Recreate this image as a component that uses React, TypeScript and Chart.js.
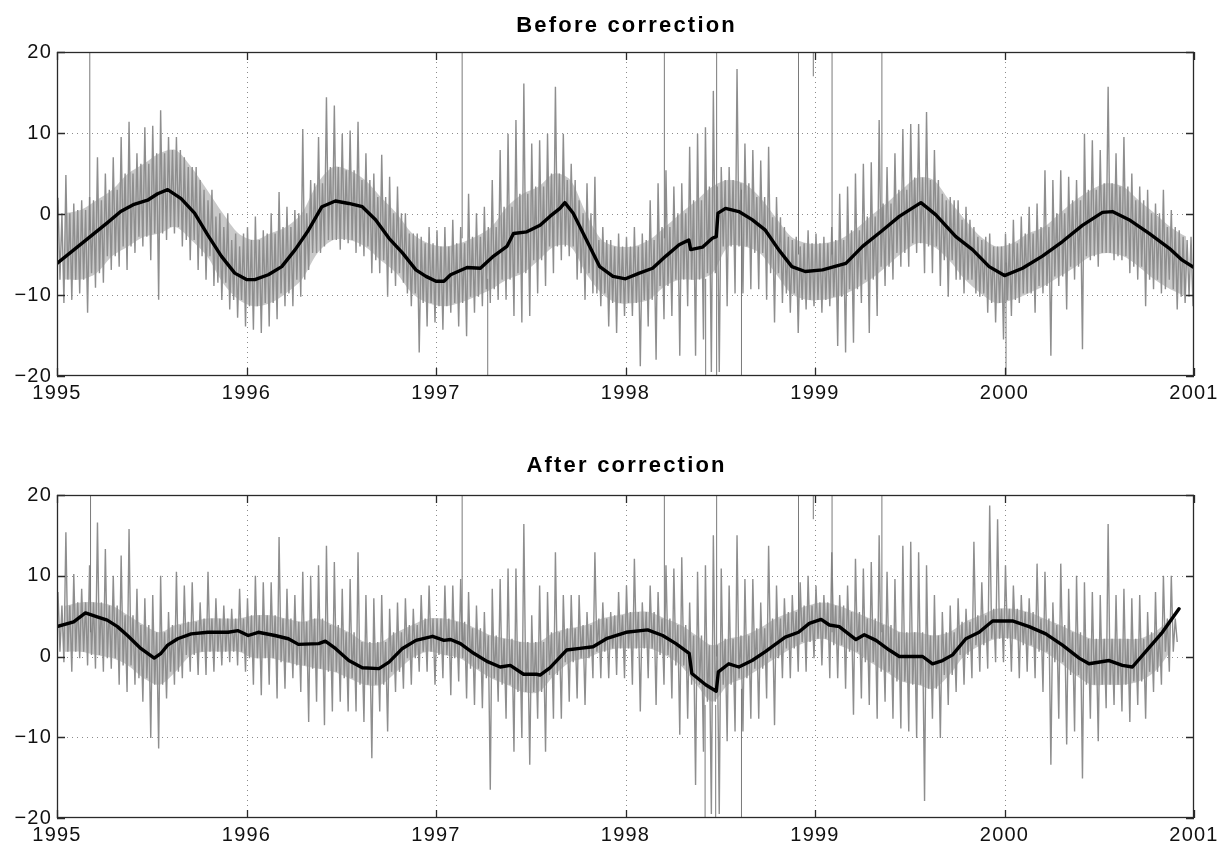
import React, { useEffect, useRef } from 'react';
import { Chart, registerables } from 'chart.js';

Chart.register(...registerables);

// ---------- data ----------
const START_YEAR = 1995;
const END_YEAR = 2001;
const HALF_MONTHS_PER_YEAR = 24;
const MONTHS_PER_YEAR = 12;
const yTickValues = [-20, -10, 0, 10, 20];

// Before correction: upper / lower extent of the daily gray trace, per half-month
const topGrayHi = [
  2.0, 4.8, 1.3, 1.7, 2.1, 7.0, 5.0, 7.0, 9.5, 11.4, 7.5, 10.7, 10.9, 12.8, 9.5, 9.5, 7.0, 5.8, 4.2, 1.7, -0.3, -1.6, -3.2, -4.0,
  -1.6, -0.3, -2.0, 0.1, 2.7, 0.9, 0.5, 10.5, 4.2, 9.5, 14.4, 13.4, 9.9, 10.3, 11.4, 7.5, 5.0, 7.3, 4.6, 3.4, 0.1, -2.4, -2.8, -1.6,
  -2.0, -1.6, -0.7, -1.6, 2.5, 0.1, 0.9, 4.2, 7.9, 9.9, 11.6, 16.1, 8.7, 9.1, 9.9, 15.7, 9.9, 6.2, 1.7, 3.8, 4.6, -1.6, -3.2, -2.4,
  -2.8, -1.6, -2.4, 1.7, 3.8, 5.4, 3.4, 3.8, 8.3, 9.9, 10.7, 15.2, 5.8, 5.8, 17.9, 8.7, 7.9, 6.6, 8.3, 2.1, -1.6, -3.2, -4.0, -2.0,
  -2.4, -2.8, -1.6, 2.5, 3.4, 5.0, 6.2, 6.4, 11.6, 5.8, 7.5, 10.5, 11.1, 11.1, 12.6, 7.9, 2.5, 2.1, 1.7, 0.9, -1.6, -3.2, -2.4, -4.0,
  -2.4, -0.7, -0.3, 0.9, 1.3, 5.4, 4.2, 5.4, 4.6, 4.2, 9.9, 9.1, 7.9, 15.7, 7.5, 9.5, 5.0, 3.4, 3.0, 1.3, 3.0, 0.5, -2.0, -3.2,
];
const topGrayLo = [
  -11.0, -10.6, -9.8, -12.2, -9.1, -8.5, -6.9, -6.5, -6.9, -4.8, -4.0, -5.7, -10.6, -3.2, -2.4, -4.0, -5.7, -6.9, -8.1, -8.9, -10.6, -11.8, -12.8, -13.9,
  -14.3, -14.7, -13.9, -13.0, -11.4, -11.4, -10.2, -6.9, -4.8, -4.0, -3.2, -4.4, -3.6, -4.8, -5.2, -7.3, -7.3, -10.2, -8.9, -8.5, -11.4, -17.1, -13.9, -13.4,
  -14.3, -12.2, -13.9, -15.1, -12.2, -11.4, -11.0, -10.6, -10.6, -12.6, -13.4, -12.6, -9.8, -8.9, -7.3, -5.7, -5.2, -8.1, -10.6, -9.8, -11.4, -13.9, -14.7, -12.6,
  -12.6, -18.8, -13.9, -18.0, -13.0, -12.6, -17.5, -11.4, -17.5, -15.5, -19.5, -19.5, -11.4, -9.8, -9.8, -9.3, -9.3, -10.6, -13.4, -11.0, -12.2, -14.7, -11.8, -11.4,
  -12.2, -11.4, -16.3, -17.1, -15.9, -11.0, -14.7, -12.6, -8.9, -8.1, -6.5, -6.5, -4.8, -7.3, -7.3, -8.9, -10.2, -8.1, -9.8, -8.1, -10.2, -12.2, -13.4, -15.5,
  -12.6, -11.0, -9.8, -12.2, -9.8, -17.5, -8.9, -11.8, -8.1, -16.7, -5.7, -6.5, -4.8, -5.7, -5.7, -7.3, -8.1, -11.4, -9.3, -9.8, -8.1, -11.8, -11.0, -11.4,
];
// dense core of the gray trace, per month
const topCoreHi = [
  0.1, 0.5, 1.7, 3.0, 5.0, 6.2, 7.5, 7.9, 5.8, 3.0, 0.1, -2.4,
  -3.2, -2.4, -1.6, 0.1, 3.8, 5.8, 5.4, 4.2, 2.1, 0.1, -2.4, -3.6,
  -4.0, -3.6, -2.8, -1.6, 0.9, 2.5, 3.4, 5.0, 4.2, 0.1, -3.2, -4.0,
  -4.0, -3.2, -1.6, 0.1, 1.7, 3.4, 4.2, 3.8, 2.1, -0.4, -2.8, -3.6,
  -3.6, -3.2, -2.0, -0.3, 1.3, 3.0, 4.5, 4.2, 1.7, -0.7, -2.8, -4.0,
  -3.6, -2.4, -1.6, 0.1, 1.7, 3.0, 3.8, 3.4, 1.7, 0.1, -1.6, -2.8,
];
const topCoreLo = [
  -8.1, -8.1, -7.3, -5.2, -4.0, -2.8, -2.4, -1.6, -3.2, -5.2, -8.5, -10.6,
  -11.4, -11.0, -9.8, -8.1, -4.8, -3.2, -3.2, -4.0, -5.7, -7.3, -9.8, -11.0,
  -11.4, -11.0, -10.2, -9.3, -8.1, -7.3, -5.7, -4.0, -4.0, -7.3, -9.8, -11.0,
  -11.0, -10.6, -8.9, -8.1, -8.1, -7.3, -4.0, -4.0, -4.8, -7.3, -9.8, -10.6,
  -10.6, -10.2, -9.3, -8.1, -6.5, -4.8, -3.6, -4.0, -5.7, -8.1, -9.8, -11.0,
  -10.6, -9.8, -8.9, -7.7, -6.5, -5.2, -4.8, -5.2, -6.5, -8.1, -9.3, -10.2,
];
// isolated tall outliers (year, low end, high end)
const topSpikeX = [1995.173, 1997.138, 1997.273, 1998.205, 1998.423, 1998.481, 1998.612, 1998.913, 1998.991, 1999.09, 1999.353, 2000.008];
const topSpikeLo = [-2, -3, -21, -3, -21, -21, -21, -5, 17, -5, -2, -21];
const topSpikeHi = [21, 21, -8, 21, -8, 21, 3, 21, 21, 21, 21, -6];
// smoothed (black) curve
const topMeanX = [
  1995.0, 1995.265, 1995.336, 1995.407, 1995.478, 1995.531, 1995.584, 1995.655, 1995.726, 1995.796, 1995.867, 1995.938,
  1996.0, 1996.044, 1996.115, 1996.186, 1996.257, 1996.327, 1996.398, 1996.469, 1996.54, 1996.611, 1996.681, 1996.752, 1996.823, 1996.894, 1996.947,
  1997.0, 1997.042, 1997.077, 1997.164, 1997.234, 1997.304, 1997.374, 1997.409, 1997.479, 1997.549, 1997.601, 1997.654, 1997.68, 1997.724, 1997.794, 1997.864, 1997.934,
  1998.0, 1998.073, 1998.143, 1998.213, 1998.283, 1998.334, 1998.344, 1998.406, 1998.458, 1998.479, 1998.488, 1998.528, 1998.598, 1998.668, 1998.738, 1998.808, 1998.878, 1998.948,
  1999.04, 1999.163, 1999.251, 1999.357, 1999.445, 1999.559, 1999.638, 1999.743, 1999.831, 1999.919,
  2000.0, 2000.095, 2000.2, 2000.306, 2000.411, 2000.517, 2000.569, 2000.657, 2000.763, 2000.868, 2000.938, 2001.0,
];
const topMeanY = [
  -6.1, -1.1, 0.3, 1.2, 1.7, 2.5, 3.0, 1.9, 0.1, -2.6, -5.2, -7.3,
  -8.1, -8.1, -7.5, -6.5, -4.4, -2.0, 0.9, 1.6, 1.3, 0.9, -0.7, -3.0, -4.8, -6.9, -7.7,
  -8.3, -8.3, -7.5, -6.6, -6.7, -5.2, -4.0, -2.4, -2.2, -1.4, -0.3, 0.7, 1.4, 0.1, -3.2, -6.5, -7.7,
  -8.0, -7.3, -6.7, -5.2, -3.8, -3.2, -4.4, -4.1, -3.0, -2.8, 0.1, 0.7, 0.3, -0.7, -2.0, -4.4, -6.5, -7.1,
  -6.9, -6.1, -4.0, -2.0, -0.3, 1.4, -0.1, -2.8, -4.4, -6.5,
  -7.6, -6.7, -5.2, -3.4, -1.4, 0.2, 0.3, -0.7, -2.4, -4.2, -5.7, -6.6,
];

// After correction
const bottomGrayHi = [
  8.0, 15.4, 10.2, 8.4, 11.3, 16.6, 13.3, 10.0, 12.5, 15.8, 8.4, 7.2, 7.6, 10.0, 5.5, 10.5, 8.8, 9.2, 6.7, 10.5, 7.2, 6.3, 5.9, 8.4,
  7.2, 10.0, 9.2, 9.2, 14.8, 8.4, 7.6, 10.5, 10.0, 11.3, 13.7, 11.7, 8.4, 9.6, 12.9, 7.6, 7.2, 7.6, 5.9, 6.7, 7.2, 5.9, 7.6, 8.8,
  4.7, 8.8, 8.8, 9.6, 8.0, 6.3, 5.5, 8.4, 9.6, 10.9, 10.9, 16.4, 5.1, 8.8, 8.0, 12.9, 7.6, 7.6, 7.6, 5.5, 12.9, 6.7, 5.5, 8.0,
  8.8, 12.1, 6.7, 8.8, 8.0, 11.3, 10.9, 12.3, 6.7, 10.5, 11.3, 15.0, 10.9, 8.8, 15.0, 9.6, 9.6, 6.7, 13.7, 8.8, 7.2, 7.6, 9.2, 10.0,
  8.8, 7.6, 12.9, 7.6, 8.8, 12.1, 10.9, 11.7, 15.0, 10.5, 9.6, 13.7, 14.2, 12.9, 11.3, 7.6, 5.5, 6.3, 7.2, 5.9, 14.2, 9.2, 18.7, 17.0,
  11.3, 8.8, 7.6, 7.2, 11.5, 10.5, 6.7, 11.5, 8.4, 10.0, 9.2, 8.0, 7.6, 16.4, 7.6, 8.4, 7.2, 7.6, 5.5, 8.0, 10.0, 10.0,
];
const bottomGrayLo = [
  -0.7, -1.9, -0.2, -1.1, -1.5, -1.9, -1.5, -3.5, -4.4, -3.5, -5.6, -10.1, -11.4, -5.2, -3.5, -2.7, -1.9, -2.3, -2.3, -1.9, -1.1, -0.7, -1.1, -1.9,
  -3.5, -4.8, -3.5, -5.2, -4.0, -2.7, -4.4, -8.1, -5.6, -8.5, -6.8, -5.6, -6.8, -6.8, -8.1, -12.6, -6.8, -9.3, -4.4, -4.0, -3.5, -1.9, -1.9, -3.5,
  -2.7, -4.8, -3.1, -5.2, -6.0, -6.4, -16.5, -5.6, -7.7, -11.8, -10.1, -13.4, -7.7, -11.8, -7.7, -7.7, -5.6, -5.2, -6.0, -2.7, -2.7, -2.7, -2.3, -2.7,
  -3.5, -6.8, -2.7, -6.0, -3.5, -5.2, -9.7, -7.7, -15.9, -11.8, -19.5, -19.5, -10.5, -9.3, -9.3, -7.7, -7.7, -5.2, -8.5, -2.7, -2.7, -1.9, -1.9, -0.2,
  -1.1, -2.7, -2.7, -4.0, -7.2, -5.2, -6.0, -7.7, -5.6, -7.7, -8.9, -9.3, -10.1, -17.9, -7.7, -10.1, -6.0, -4.4, -3.5, -2.7, -1.9, -1.5, -0.7, -0.7,
  -1.9, -2.7, -1.9, -2.7, -4.4, -13.4, -7.7, -10.9, -9.3, -15.1, -7.7, -10.5, -6.4, -6.0, -6.8, -8.1, -6.0, -7.7, -4.4, -3.5, -1.9, 1.8,
];
const bottomCoreHi = [
  6.3, 6.7, 6.7, 6.3, 5.1, 3.9, 3.0, 3.9, 4.3, 4.7, 4.7, 4.7,
  5.1, 5.1, 4.7, 4.3, 4.7, 3.9, 3.0, 1.8, 1.8, 3.0, 3.9, 4.7,
  4.7, 4.3, 3.5, 2.6, 2.2, 1.8, 1.8, 3.0, 3.5, 3.9, 4.7, 5.1,
  5.5, 5.5, 4.7, 3.9, 2.6, 1.4, 2.2, 2.6, 3.5, 4.7, 5.5, 6.3,
  6.7, 6.3, 5.5, 4.7, 3.9, 3.0, 3.0, 2.6, 3.0, 4.3, 5.1, 5.9,
  5.9, 5.5, 4.7, 3.9, 3.0, 2.2, 2.2, 2.2, 2.2, 3.0, 4.7, 6.3,
];
const bottomCoreLo = [
  0.6, 0.6, 0.2, -0.2, -1.1, -2.7, -3.5, -1.9, 0.2, 0.6, 0.6, 0.6,
  -0.2, -0.2, -0.7, -1.1, -1.5, -1.9, -2.7, -3.5, -3.5, -1.9, -0.2, 0.6,
  0.2, -0.2, -1.5, -2.7, -3.5, -4.4, -4.4, -2.3, -0.7, -0.2, 0.6, 1.0,
  1.0, 1.0, 0.2, -1.1, -3.5, -5.6, -3.5, -2.7, -1.5, -0.2, 1.0, 1.8,
  2.2, 1.4, 0.6, -0.7, -1.9, -3.1, -3.5, -4.0, -2.3, 0.2, 1.4, 2.2,
  2.2, 1.4, 0.6, -0.7, -2.3, -3.5, -3.5, -3.5, -3.1, -1.9, 0.6, 2.2,
];
const bottomSpikeX = [1995.177, 1997.138, 1998.205, 1998.42, 1998.476, 1998.481, 1998.612, 1998.913, 1998.991, 1999.09, 1999.353];
const bottomSpikeLo = [3, 2, 3, -21, -21, 0, -21, 3, 17, 3, 3];
const bottomSpikeHi = [21, 21, 21, -6, -6, 21, -4, 21, 21, 21, 21];
const bottomMeanX = [
  1995.0, 1995.088, 1995.15, 1995.212, 1995.265, 1995.319, 1995.372, 1995.442, 1995.513, 1995.549, 1995.584, 1995.637, 1995.708, 1995.796, 1995.903, 1995.956,
  1996.009, 1996.062, 1996.15, 1996.221, 1996.274, 1996.381, 1996.416, 1996.469, 1996.54, 1996.611, 1996.699, 1996.752, 1996.823, 1996.894, 1996.982,
  1997.042, 1997.077, 1997.129, 1997.199, 1997.269, 1997.339, 1997.392, 1997.462, 1997.531, 1997.549, 1997.601, 1997.689, 1997.759, 1997.829, 1997.899,
  1998.003, 1998.117, 1998.196, 1998.266, 1998.336, 1998.35, 1998.423, 1998.479, 1998.49, 1998.545, 1998.598, 1998.668, 1998.738, 1998.843, 1998.913, 1998.97,
  1999.032, 1999.076, 1999.128, 1999.216, 1999.26, 1999.322, 1999.392, 1999.445, 1999.568, 1999.62, 1999.673, 1999.726, 1999.796, 1999.866, 1999.937,
  2000.042, 2000.13, 2000.218, 2000.306, 2000.394, 2000.446, 2000.552, 2000.622, 2000.675, 2000.745, 2000.833, 2000.921,
];
const bottomMeanY = [
  3.7, 4.3, 5.4, 4.9, 4.5, 3.7, 2.6, 1.0, -0.2, 0.4, 1.4, 2.2, 2.8, 3.0, 3.0, 3.2,
  2.6, 3.0, 2.6, 2.2, 1.5, 1.6, 1.9, 1.0, -0.5, -1.4, -1.5, -0.7, 1.0, 2.0, 2.5,
  2.0, 2.1, 1.6, 0.4, -0.6, -1.3, -1.1, -2.2, -2.2, -2.3, -1.4, 0.8, 1.0, 1.2, 2.2,
  3.0, 3.3, 2.6, 1.6, 0.4, -2.1, -3.5, -4.3, -1.9, -0.9, -1.3, -0.5, 0.6, 2.4, 3.0, 4.1,
  4.6, 3.9, 3.7, 2.1, 2.7, 2.0, 0.8, 0.0, 0.0, -0.9, -0.5, 0.2, 2.2, 3.0, 4.4,
  4.4, 3.7, 2.8, 1.4, -0.2, -0.9, -0.5, -1.1, -1.3, 0.6, 3.0, 5.9,
];

// ---------- helpers ----------
const FONT = '"Liberation Sans", Arial, Helvetica, sans-serif';

function grayTrace(hi: number[], lo: number[], coreHi: number[], coreLo: number[]) {
  const pts: { x: number; y: number }[] = [];
  for (let i = 0; i < hi.length; i++) {
    const m = Math.floor(i / 2);
    const x0 = START_YEAR + i / HALF_MONTHS_PER_YEAR;
    const w = 1 / HALF_MONTHS_PER_YEAR;
    pts.push({ x: x0 + 0.125 * w, y: hi[i] });
    pts.push({ x: x0 + 0.375 * w, y: coreLo[m] });
    pts.push({ x: x0 + 0.625 * w, y: coreHi[m] });
    pts.push({ x: x0 + 0.875 * w, y: lo[i] });
  }
  return pts;
}
function coreTrace(vals: number[], months: number) {
  return vals.slice(0, months).map((v, m) => ({ x: START_YEAR + (m + 0.5) / MONTHS_PER_YEAR, y: v }));
}
function spikeTrace(xs: number[], lo: number[], hi: number[]) {
  const pts: { x: number; y: number | null }[] = [];
  xs.forEach((x, i) => {
    pts.push({ x, y: lo[i] }, { x, y: hi[i] }, { x, y: null });
  });
  return pts;
}
function meanTrace(xs: number[], ys: number[]) {
  return xs.map((x, i) => ({ x, y: ys[i] }));
}

const TICK_SPACING = '1.2px';
const TITLE_SPACING = 2.2;

const framePlugin = {
  id: 'frame',
  beforeDraw(chart: any) {
    chart.ctx.letterSpacing = TICK_SPACING;
  },
  beforeDatasetsDraw(chart: any) {
    const { ctx, chartArea: a, scales } = chart;
    const xs = scales.x, ys = scales.y;
    ctx.save();
    ctx.strokeStyle = '#8c8c8c';
    ctx.lineWidth = 1;
    ctx.setLineDash([1, 4]);
    xs.ticks.forEach((t: any) => {
      const px = Math.round(xs.getPixelForValue(t.value)) + 0.5;
      if (px <= a.left + 1 || px >= a.right - 1) return;
      ctx.beginPath();
      ctx.moveTo(px, a.top);
      ctx.lineTo(px, a.bottom);
      ctx.stroke();
    });
    ys.ticks.forEach((t: any) => {
      const py = Math.round(ys.getPixelForValue(t.value)) + 0.5;
      if (py <= a.top + 1 || py >= a.bottom - 1) return;
      ctx.beginPath();
      ctx.moveTo(a.left, py);
      ctx.lineTo(a.right, py);
      ctx.stroke();
    });
    ctx.restore();
  },
  afterDatasetsDraw(chart: any) {
    const { ctx, chartArea: a, scales } = chart;
    const xs = scales.x, ys = scales.y;
    const L = 8;
    ctx.save();
    ctx.setLineDash([]);
    ctx.strokeStyle = '#2a2a2a';
    ctx.lineWidth = 1.3;
    xs.ticks.forEach((t: any) => {
      const px = Math.round(xs.getPixelForValue(t.value)) + 0.5;
      ctx.beginPath();
      ctx.moveTo(px, a.bottom);
      ctx.lineTo(px, a.bottom - L);
      ctx.moveTo(px, a.top);
      ctx.lineTo(px, a.top + L);
      ctx.stroke();
    });
    ys.ticks.forEach((t: any) => {
      const py = Math.round(ys.getPixelForValue(t.value)) + 0.5;
      ctx.beginPath();
      ctx.moveTo(a.left, py);
      ctx.lineTo(a.left + L, py);
      ctx.moveTo(a.right, py);
      ctx.lineTo(a.right - L, py);
      ctx.stroke();
    });
    ctx.strokeRect(a.left + 0.5, a.top + 0.5, a.right - a.left - 1, a.bottom - a.top - 1);
    ctx.restore();
  },
  afterDraw(chart: any, _args: any, opts: any) {
    const { ctx, chartArea: a } = chart;
    ctx.save();
    ctx.letterSpacing = TITLE_SPACING + 'px';
    ctx.font = `bold 22px ${FONT}`;
    ctx.fillStyle = '#000';
    ctx.textAlign = 'center';
    ctx.textBaseline = 'alphabetic';
    ctx.fillText(opts.title, (a.left + a.right) / 2 + TITLE_SPACING / 2, opts.titleBaseline);
    ctx.restore();
    ctx.letterSpacing = '0px';
  },
};

type PanelProps = {
  title: string;
  titleBaseline: number;
  padTop: number;
  xAxisHeight: number;
  hi: number[];
  lo: number[];
  coreHi: number[];
  coreLo: number[];
  spikeX: number[];
  spikeLo: number[];
  spikeHi: number[];
  meanX: number[];
  meanY: number[];
};

function Panel(p: PanelProps) {
  const ref = useRef<HTMLCanvasElement | null>(null);
  useEffect(() => {
    if (!ref.current) return;
    const months = Math.ceil(p.hi.length / 2);
    const chart = new Chart(ref.current, {
      type: 'line',
      data: {
        datasets: [
          {
            data: meanTrace(p.meanX, p.meanY),
            borderColor: '#000',
            borderWidth: 3.4,
            borderJoinStyle: 'round',
            borderCapStyle: 'round',
            pointRadius: 0,
            tension: 0,
            order: 0,
            clip: 0,
          },
          {
            data: spikeTrace(p.spikeX, p.spikeLo, p.spikeHi),
            borderColor: '#7a7a7a',
            borderWidth: 1,
            pointRadius: 0,
            spanGaps: false,
            tension: 0,
            order: 1,
            clip: 0,
          },
          {
            data: grayTrace(p.hi, p.lo, p.coreHi, p.coreLo),
            borderColor: '#8e8e8e',
            borderWidth: 1.4,
            pointRadius: 0,
            tension: 0,
            order: 2,
            clip: 0,
          },
          {
            data: coreTrace(p.coreHi, months),
            borderWidth: 0,
            borderColor: 'rgba(0,0,0,0)',
            backgroundColor: '#c9c9c9',
            fill: '+1',
            pointRadius: 0,
            tension: 0.3,
            order: 3,
            clip: 0,
          },
          {
            data: coreTrace(p.coreLo, months),
            borderWidth: 0,
            borderColor: 'rgba(0,0,0,0)',
            pointRadius: 0,
            tension: 0.3,
            order: 3,
            clip: 0,
          },
        ],
      } as any,
      options: {
        responsive: false,
        animation: false,
        events: [],
        layout: { padding: { top: p.padTop, right: 32, left: 0, bottom: 0 } },
        plugins: {
          legend: { display: false },
          tooltip: { enabled: false },
          frame: { title: p.title, titleBaseline: p.titleBaseline },
        } as any,
        scales: {
          x: {
            type: 'linear',
            min: START_YEAR,
            max: END_YEAR,
            grid: { display: false, drawTicks: false, tickLength: 0 },
            border: { display: false },
            ticks: {
              stepSize: 1,
              autoSkip: false,
              maxRotation: 0,
              padding: 5,
              color: '#111',
              font: { family: FONT, size: 20 },
              callback: (v: any) => String(v),
            },
            afterFit: (s: any) => {
              s.height = p.xAxisHeight;
            },
          },
          y: {
            type: 'linear',
            min: -20,
            max: 20,
            grid: { display: false, drawTicks: false, tickLength: 0 },
            border: { display: false },
            afterBuildTicks: (s: any) => {
              s.ticks = yTickValues.map((v) => ({ value: v }));
            },
            ticks: {
              padding: 5,
              color: '#111',
              font: { family: FONT, size: 20 },
              callback: (v: any) => (v < 0 ? '\u2212' + Math.abs(v) : String(v)),
            },
            afterFit: (s: any) => {
              s.width = 57;
            },
          },
        },
      } as any,
      plugins: [framePlugin as any],
    });
    return () => chart.destroy();
  }, []);
  return <canvas ref={ref} width={1226} height={423} style={{ display: 'block', width: 1226, height: 423 }} />;
}

export default function App() {
  return (
    <div style={{ position: 'absolute', left: 0, top: 0, width: 1226, height: 846, background: '#fff' }}>
      <Panel
        title="Before correction"
        titleBaseline={32}
        padTop={52}
        xAxisHeight={47}
        hi={topGrayHi}
        lo={topGrayLo}
        coreHi={topCoreHi}
        coreLo={topCoreLo}
        spikeX={topSpikeX}
        spikeLo={topSpikeLo}
        spikeHi={topSpikeHi}
        meanX={topMeanX}
        meanY={topMeanY}
      />
      <Panel
        title="After correction"
        titleBaseline={49}
        padTop={72}
        xAxisHeight={28}
        hi={bottomGrayHi}
        lo={bottomGrayLo}
        coreHi={bottomCoreHi}
        coreLo={bottomCoreLo}
        spikeX={bottomSpikeX}
        spikeLo={bottomSpikeLo}
        spikeHi={bottomSpikeHi}
        meanX={bottomMeanX}
        meanY={bottomMeanY}
      />
    </div>
  );
}
